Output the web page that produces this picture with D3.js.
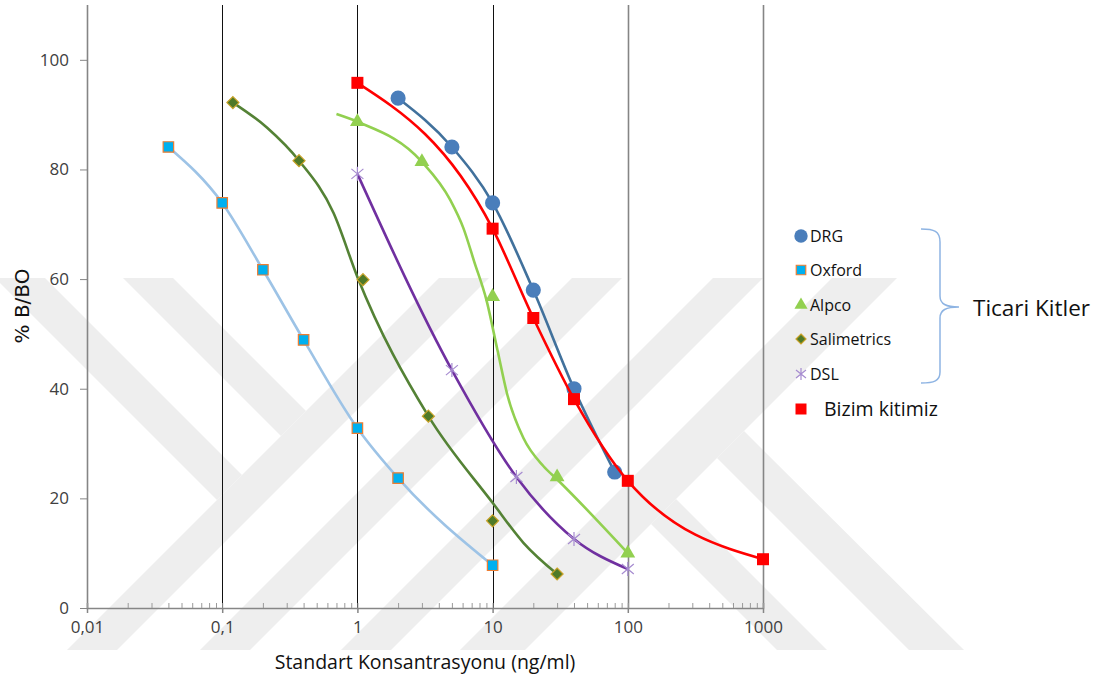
<!DOCTYPE html>
<html>
<head>
<meta charset="utf-8">
<script src="https://cdn.jsdelivr.net/npm/d3@7"></script>
<style>
  body { margin: 0; background: #fff; }
  text { font-family: "Open Sans", sans-serif; }
</style>
</head>
<body>
<svg id="chart"></svg>
<script>
const width = 1105, height = 681;

// values
const xTicks = [0.01, 0.1, 1, 10, 100, 1000];
const xTickLabels = ["0,01", "0,1", "1", "10", "100", "1000"];
const yTicks = [0, 20, 40, 60, 80, 100];

const drgX = [2, 5, 10, 20, 40, 80];
const drgY = [93, 84.1, 73.9, 58, 40, 24.8];

const oxfordX = [0.04, 0.1, 0.2, 0.4, 1, 2, 10];
const oxfordY = [84.1, 73.9, 61.7, 48.9, 32.8, 23.7, 7.8];

const alpcoX = [1, 3, 10, 30, 100];
const alpcoY = [88.7, 81.4, 56.8, 23.9, 10];
// the drawn smooth line for Alpco (starts left of the first marker)
const alpcoLineX = [0.7, 1, 3, 4.87, 6.08, 7.33, 9.0, 10.85, 12.85, 16.9, 23.7, 30.2, 100];
const alpcoLineY = [90.1, 88.7, 81.4, 74.4, 69.3, 63.1, 56.2, 47.1, 38.9, 31.0, 25.9, 23.4, 10];

const salimetricsX = [0.12, 0.37, 1.1, 3.35, 10, 30];
const salimetricsY = [92.2, 81.6, 59.9, 35, 15.9, 6.2];
// fitted line for Salimetrics (does not pass every marker)
const salimetricsLineX = [0.12, 0.215, 0.37, 0.665, 1, 3.35, 10, 16.9, 30];
const salimetricsLineY = [92.2, 87.6, 81.6, 72.1, 60.4, 35, 19.2, 11.9, 6.2];

const dslX = [1, 5, 15, 40, 100];
const dslY = [79.2, 43.4, 23.9, 12.6, 7.1];

const bizimX = [1, 10, 20, 40, 100, 1000];
const bizimY = [95.8, 69.2, 52.9, 38.1, 23.2, 8.9];

const kitNames = ["DRG", "Oxford", "Alpco", "Salimetrics", "DSL", "Bizim kitimiz"];

const zip = (xs, ys) => xs.map((v, i) => ({ x: v, y: ys[i] }));

const series = [
    { name: kitNames[0], pts: zip(drgX, drgY), line: zip(drgX, drgY), shape: "circle",
      stroke: "#41719C", fill: "#4A7EBB", mstroke: "none" },
    { name: kitNames[1], pts: zip(oxfordX, oxfordY), line: zip(oxfordX, oxfordY), shape: "square",
      stroke: "#9DC3E6", fill: "#00B0F0", mstroke: "#ED7D31" },
    { name: kitNames[2], pts: zip(alpcoX, alpcoY), line: zip(alpcoLineX, alpcoLineY), shape: "triangle",
      stroke: "#92D050", fill: "#92D050", mstroke: "none" },
    { name: kitNames[3], pts: zip(salimetricsX, salimetricsY), line: zip(salimetricsLineX, salimetricsLineY), shape: "diamond",
      stroke: "#548235", fill: "#4F7A28", mstroke: "#C9A227" },
    { name: kitNames[4], pts: zip(dslX, dslY), line: zip(dslX, dslY), shape: "star",
      stroke: "#7030A0", fill: "none", mstroke: "#A68BD0" },
    { name: kitNames[5], pts: zip(bizimX, bizimY), line: zip(bizimX, bizimY), shape: "bigsquare",
      stroke: "#FF0000", fill: "#FF0000", mstroke: "none" }
];

const svg = d3.select("#chart")
    .attr("width", width)
    .attr("height", height);

svg.append("rect").attr("width", width).attr("height", height).attr("fill", "#fff");

// light grey watermark behind the chart
const watermark = [
    [[-5, 278], [45, 278], [242, 475], [217, 500]],
    [[123, 278], [173, 278], [306, 411], [281, 436]],
    [[439, 278], [489, 278], [117, 650], [67, 650]],
    [[572, 278], [622, 278], [250, 650], [200, 650]],
    [[713, 278], [763, 278], [391, 650], [341, 650]],
    [[832, 278], [897, 278], [525, 650], [460, 650]],
    [[744, 431], [964, 650], [909, 650], [717, 458]],
    [[676, 499], [827, 650], [777, 650], [651, 524]]
];
svg.append("g").selectAll("path")
    .data(watermark)
    .enter().append("path")
    .attr("d", d => "M" + d.join("L") + "Z")
    .attr("fill", "#EEEEEE");

const x = d3.scaleLog().domain([0.01, 1000]).range([87, 763]);
const y = d3.scaleLinear().domain([0, 110]).range([608, 5]);

// vertical decade lines
svg.append("g").selectAll("line")
    .data(xTicks)
    .enter().append("line")
    .attr("x1", d => Math.round(x(d)) + 0.5)
    .attr("x2", d => Math.round(x(d)) + 0.5)
    .attr("y1", y(110))
    .attr("y2", y(0))
    .attr("stroke", d => (d === 0.01 || d >= 100) ? "#858585" : "#111")
    .attr("stroke-width", d => (d === 0.01 || d >= 100) ? 1.6 : 1);

// x axis: minor ticks point up, major ticks cross the line
const minorTicks = [];
for (let k = -2; k < 3; k++) {
    for (let m = 2; m < 10; m++) minorTicks.push(m * Math.pow(10, k));
}
const xMinor = svg.append("g")
    .attr("transform", `translate(0,${y(0)})`)
    .call(d3.axisBottom(x).tickValues(minorTicks.concat(xTicks)).tickSize(-5).tickFormat(""));
xMinor.select(".domain").attr("stroke", "#868686").attr("stroke-width", 1.5);
xMinor.selectAll(".tick line").attr("stroke", "#9a9a9a");

const xAxis = svg.append("g")
    .attr("transform", `translate(0,${y(0)})`)
    .call(d3.axisBottom(x).tickValues(xTicks).tickSize(5).tickPadding(8)
        .tickFormat((d, i) => xTickLabels[i]));
xAxis.select(".domain").remove();
xAxis.selectAll(".tick line").attr("stroke", "#868686").attr("stroke-width", 1.5);
xAxis.selectAll(".tick text")
    .attr("fill", "#404040")
    .style("font-size", "17px");

const yAxis = svg.append("g")
    .attr("transform", `translate(87,0)`)
    .call(d3.axisLeft(y).tickValues(yTicks).tickSize(7).tickPadding(11));
yAxis.select(".domain").remove();
yAxis.selectAll(".tick line").attr("stroke", "#868686");
yAxis.selectAll(".tick text")
    .attr("fill", "#404040")
    .style("font-size", "17px");

// axis titles
svg.append("text")
    .attr("x", 425)
    .attr("y", 669)
    .attr("text-anchor", "middle")
    .attr("fill", "#111")
    .style("font-size", "19.5px")
    .text("Standart Konsantrasyonu (ng/ml)");

svg.append("text")
    .attr("transform", "translate(29,306) rotate(-90)")
    .attr("text-anchor", "middle")
    .attr("fill", "#111")
    .style("font-family", "DejaVu Sans")
    .style("font-size", "20px")
    .text("% B/BO");

// marker shapes
const markerPath = (shape) => {
    switch (shape) {
        case "circle": return d3.symbol(d3.symbolCircle, 180)();
        case "square": return d3.symbol(d3.symbolSquare, 110)();
        case "bigsquare": return d3.symbol(d3.symbolSquare, 144)();
        case "triangle": return d3.symbol(d3.symbolTriangle, 95)();
        case "diamond": return "M0,-6L6,0L0,6L-6,0Z";
        case "star": return "M0,-7L0,7M-6,-5L6,5M-6,5L6,-5";
    }
};

// smooth, monotone lines like the spreadsheet's smoothed series
const line = d3.line()
    .x(d => x(d.x))
    .y(d => y(d.y))
    .curve(d3.curveMonotoneX);

const groups = svg.selectAll(".kit")
    .data(series)
    .enter().append("g")
    .attr("class", "kit");

groups.append("path")
    .attr("d", d => line(d.line))
    .attr("fill", "none")
    .attr("stroke", d => d.stroke)
    .attr("stroke-width", 2.6);

groups.each(function(s) {
    d3.select(this).selectAll(".pt")
        .data(s.pts)
        .enter().append("path")
        .attr("class", "pt")
        .attr("transform", d => `translate(${x(d.x)},${y(d.y)})`)
        .attr("d", markerPath(s.shape))
        .attr("fill", s.fill)
        .attr("stroke", s.mstroke)
        .attr("stroke-width", 1.2);
});

// legend
const legendY = [236, 270, 305, 339, 374, 409];
const legend = svg.selectAll(".legend")
    .data(series)
    .enter().append("g")
    .attr("class", "legend")
    .attr("transform", (d, i) => `translate(801,${legendY[i]})`);

legend.append("path")
    .attr("d", d => d.shape === "circle" ? d3.symbol(d3.symbolCircle, 140)()
        : d.shape === "triangle" ? d3.symbol(d3.symbolTriangle, 75)()
        : d.shape === "diamond" ? "M0,-5L5,0L0,5L-5,0Z"
        : d.shape === "star" ? "M0,-6L0,6M-5,-4L5,4M-5,4L5,-4"
        : d3.symbol(d3.symbolSquare, d.shape === "bigsquare" ? 121 : 90)())
    .attr("fill", d => d.fill)
    .attr("stroke", d => d.mstroke)
    .attr("stroke-width", 1.2);

legend.append("text")
    .attr("x", d => d.shape === "bigsquare" ? 23 : 9)
    .attr("dy", "0.35em")
    .attr("fill", "#111")
    .style("font-size", d => d.shape === "bigsquare" ? "19.5px" : "16px")
    .text(d => d.name);

// brace grouping the commercial kits
svg.append("path")
    .attr("d", "M921,229C934,229 940,231 940,242L940,296C940,304 946,307 959,307" +
               "C946,307 940,310 940,318L940,372C940,381 934,383 921,383")
    .attr("fill", "none")
    .attr("stroke", "#8EB4E3")
    .attr("stroke-width", 1.5);

svg.append("text")
    .attr("x", 973)
    .attr("y", 308)
    .attr("dy", "0.35em")
    .attr("fill", "#111")
    .style("font-size", "22.5px")
    .text("Ticari Kitler");
</script>
</body>
</html>
